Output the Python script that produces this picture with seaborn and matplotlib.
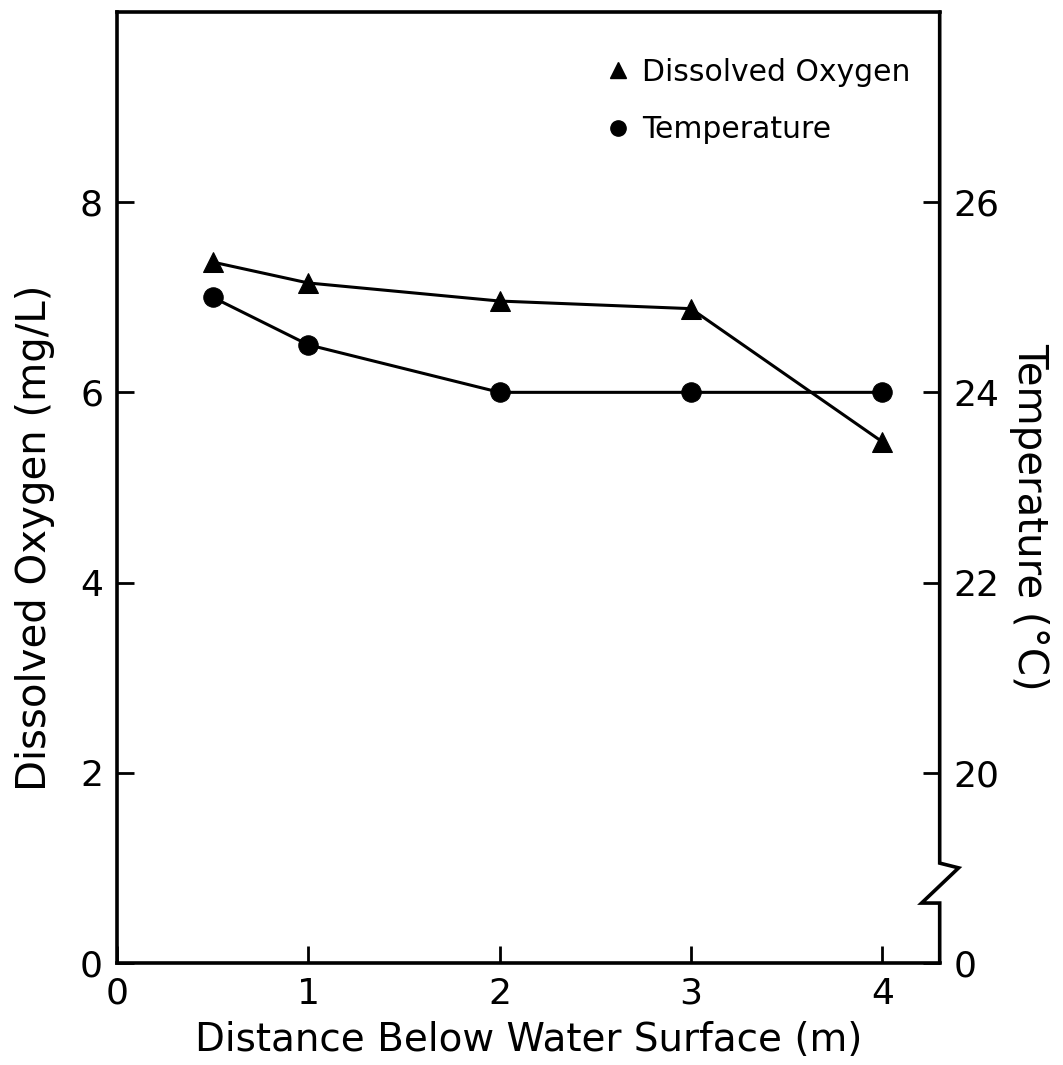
import numpy as np
import pandas as pd
import matplotlib.pyplot as plt
import seaborn as sns
from matplotlib.lines import Line2D

# data
depth = [0.5, 1, 2, 3, 4]
dissolved_oxygen = [7.37, 7.15, 6.96, 6.88, 5.48]
temperature = [25.0, 24.5, 24.0, 24.0, 24.0]

x_ticks = [0, 1, 2, 3, 4]
do_ticks = [0, 2, 4, 6, 8]
temp_ticks = [18, 20, 22, 24, 26]
temp_tick_labels = ['0', '20', '22', '24', '26']

df = pd.DataFrame({'Depth': depth, 'DO': dissolved_oxygen, 'Temp': temperature})

sns.set_style("ticks")
plt.rcParams['font.family'] = ['DejaVu Sans']
for key in ['text.color', 'axes.labelcolor', 'xtick.color', 'ytick.color', 'axes.edgecolor']:
    plt.rcParams[key] = 'black'

fig = plt.figure(figsize=(10.63, 10.65), dpi=100)
ax = fig.add_axes([0.110, 0.0958, 0.774, 0.893])
ax2 = ax.twinx()

sns.lineplot(x='Depth', y='DO', data=df, ax=ax, color='black', marker='^',
             markersize=15, linewidth=2.2, markeredgecolor='black')
sns.lineplot(x='Depth', y='Temp', data=df, ax=ax2, color='black', marker='o',
             markersize=14, linewidth=2.2, markeredgecolor='black')

ax.set_xlim(0, 4.3)
ax.set_ylim(0, 10)
ax2.set_ylim(18, 28)

ax.set_xticks(x_ticks)
ax.set_yticks(do_ticks)
ax2.set_yticks(temp_ticks)
ax2.set_yticklabels(temp_tick_labels)

for a in (ax, ax2):
    a.tick_params(direction='in', length=12, width=2, labelsize=26, pad=10)
    for s in a.spines.values():
        s.set_linewidth(2.6)
    a.spines['right'].set_visible(False)
ax2.spines['left'].set_visible(False)
ax2.spines['top'].set_visible(False)
ax2.spines['bottom'].set_visible(False)
ax2.tick_params(axis='y', right=True, left=False, labelright=True, labelleft=False)

# right spine with axis break
ax.plot([1, 1, 1.023, 0.978, 1, 1], [1, 0.105, 0.100, 0.063, 0.063, 0],
        transform=ax.transAxes, color='black', linewidth=2.6, clip_on=False,
        solid_joinstyle='miter')

ax.set_xlabel('Distance Below Water Surface (m)', fontsize=28, labelpad=7)
ax.set_ylabel('Dissolved Oxygen (mg/L)', fontsize=29, rotation=90, va='center')
ax.yaxis.set_label_coords(-0.10, 0.447)
ax2.set_ylabel('Temperature (°C)', fontsize=29, rotation=270, va='center')
ax2.yaxis.set_label_coords(1.109, 0.469)

handles = [Line2D([], [], color='black', marker='^', linestyle='none', markersize=12),
           Line2D([], [], color='black', marker='o', linestyle='none', markersize=11)]
ax.legend(handles, ['Dissolved Oxygen', 'Temperature'], loc='upper right',
          frameon=False, fontsize=21.5, handlelength=1.0, handletextpad=0.3,
          labelspacing=0.95, bbox_to_anchor=(0.997, 0.98))

plt.savefig('out.png', dpi=100)
